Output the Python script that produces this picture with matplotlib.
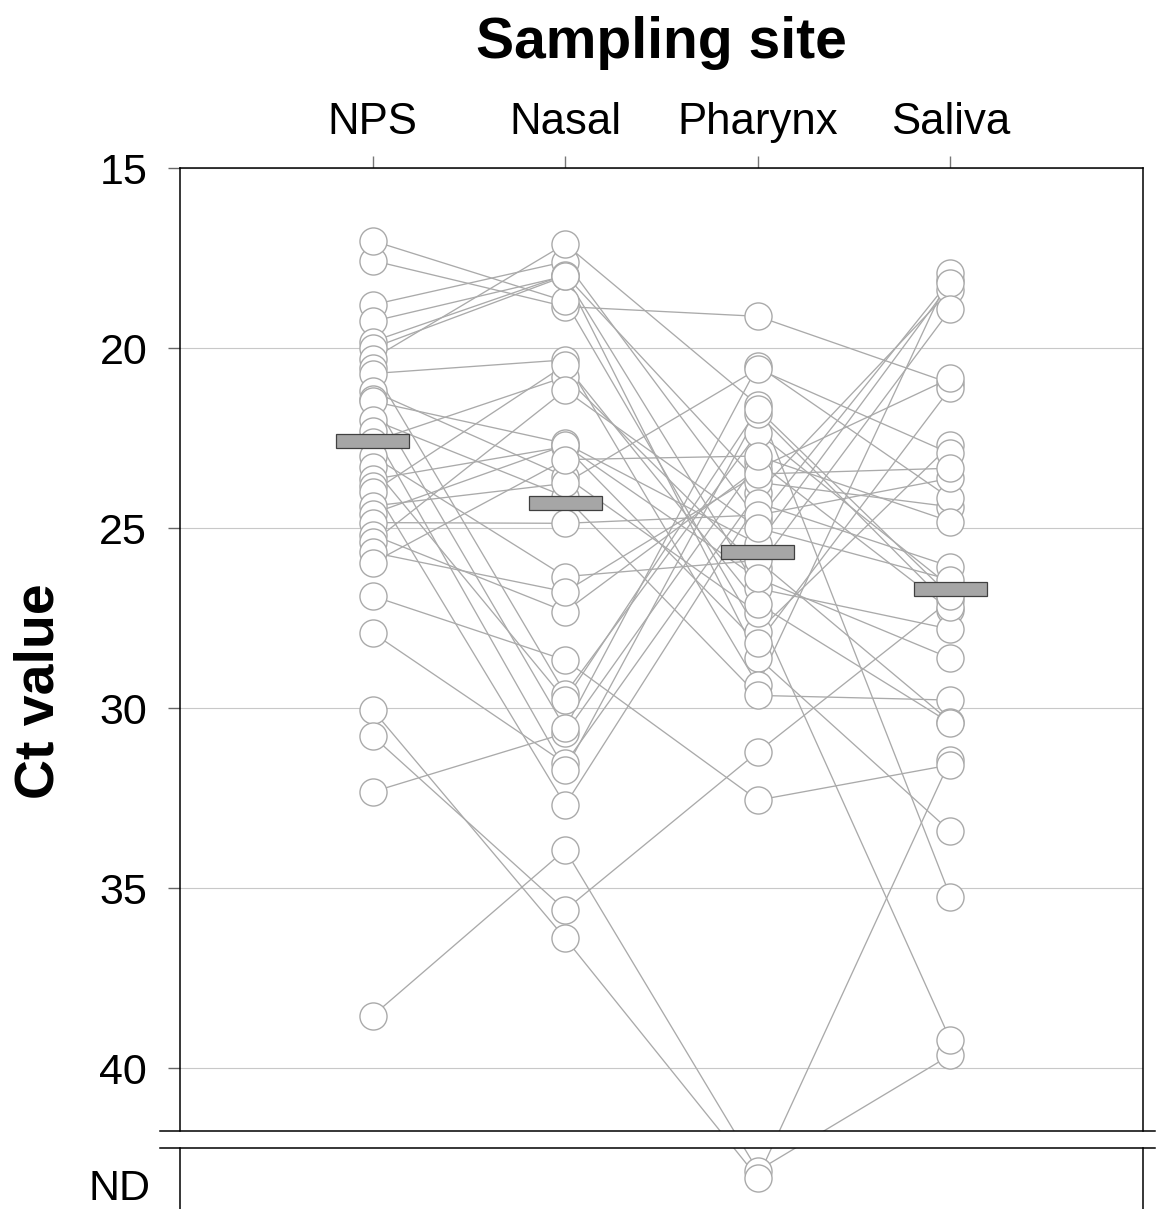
import numpy as np
import matplotlib
matplotlib.use("Agg")
import matplotlib.pyplot as plt
from matplotlib.lines import Line2D

plt.rcParams['font.family'] = ['Liberation Sans', 'DejaVu Sans']

# --- data (Ct values per subject; ND plotted below the axis break) ---
sites = ['NPS', 'Nasal', 'Pharynx', 'Saliva']
ND = 'ND'

nps = [38.55, 30.05, 30.78, 26.89, 32.33, 27.91, 17.57, 17.02,
       18.8, 19.26, 19.82, 20.0, 20.3, 20.56, 20.71, 21.2, 21.43, 21.48,
       21.99, 22.3, 22.6, 23.0, 23.3, 23.65, 23.84, 24.0, 24.39, 24.6,
       24.85, 25.19, 25.4, 25.68, 25.97]
nasal = [33.94, 36.4, 35.61, 28.67, 30.7, 31.54, 18.85, 18.7,
         17.6, 18.0, 17.97, 18.0, 17.11, 29.6, 20.33, 23.57, 30.56, 22.65,
         24.13, 31.72, 20.8, 26.35, 29.78, 22.74, 32.69, 20.47, 23.76, 22.7,
         24.87, 27.32, 21.17, 26.77, 23.1]
pharynx = [ND, ND, 31.22, 32.56, 23.16, 24.02, 19.12, 27.88,
           24.78, 26.68, 23.73, 28.6, 21.58, 22.35, 29.36, 27.35, 20.49, 25.44,
           29.65, 21.82, 26.1, 25.9, 21.7, 28.2, 24.3, 27.1, 20.58, 26.4,
           24.64, 23.35, 25.0, 23.5, 23.0]
saliva = [39.64, 31.44, 27.0, 31.58, 27.28, 18.39, 20.98, 22.69,
          18.1, 27.81, 24.41, 33.43, 35.24, 26.63, 17.93, 39.22, 24.18, 18.2,
          29.78, 27.2, 18.93, 30.38, 26.9, 21.12, 26.07, 30.42, 22.93, 28.62,
          23.62, 20.84, 26.44, 23.34, 24.82]
mean_ct = [22.58, 24.3, 25.67, 26.69]

# ND samples are drawn at these positions inside the lower panel
nd_pos = [42.85, 43.05]


def to_plot(vals):
    out, k = [], 0
    for v in vals:
        if v == ND:
            out.append(nd_pos[k % len(nd_pos)])
            k += 1
        else:
            out.append(v)
    return np.array(out, dtype=float)


cols = np.array([to_plot(nps), to_plot(nasal), to_plot(pharynx), to_plot(saliva)])
xs = np.arange(1, len(sites) + 1)

W, H = 1157, 1209
fig = plt.figure(figsize=(W / 100, H / 100), dpi=100)
ppu = 36.0  # pixels per Ct unit
ax = fig.add_axes([180 / W, 1 - 1131 / H, 963 / W, 963 / H])
axb = fig.add_axes([180 / W, 0, 963 / W, 61 / H])

line_c = '#aaaaaa'
for a in (ax, axb):
    for i in range(cols.shape[1]):
        a.plot(xs, cols[:, i], color=line_c, lw=0.95, zorder=2)
    for j in range(len(xs)):
        a.plot(np.full(cols.shape[1], xs[j]), cols[j], 'o', ms=19.5,
               mfc='white', mec=line_c, mew=1.0, zorder=3, ls='none')
    a.set_xlim(0, 5)
    for s in a.spines.values():
        s.set_linewidth(1.1)
        s.set_color('black')

# mean bars
ax.bar(xs, 0.39, bottom=np.array(mean_ct) - 0.195, width=0.38,
       color='#a6a6a6', edgecolor='#404040', linewidth=0.9, zorder=4)

ax.set_ylim(15 + 963 / ppu, 15)
axb.set_ylim(15 + 1041 / ppu, 15 + 980 / ppu)

ax.set_yticks([15, 20, 25, 30, 35, 40])
ax.grid(axis='y', color='#c8c8c8', lw=0.8, zorder=0)
ax.set_axisbelow(True)
ax.tick_params(axis='y', direction='out', length=8.6, width=1, color='#666666',
               labelsize=31, pad=15)
ax.xaxis.tick_top()
ax.set_xticks(xs)
ax.set_xticklabels(sites)
ax.tick_params(axis='x', direction='out', length=9, width=1, color='#777777',
               labelsize=31.5, pad=9)
ax.spines['bottom'].set_visible(False)

axb.set_xticks([])
axb.set_yticks([43.25])
axb.set_yticklabels(['ND'])
axb.tick_params(axis='y', length=0, labelsize=31, pad=21)
axb.spines['top'].set_visible(False)
axb.spines['bottom'].set_visible(False)

# axis break marks
for yp in (1131, 1148):
    fig.add_artist(Line2D([160 / W, 1155 / W], [1 - yp / H] * 2,
                          transform=fig.transFigure, color='black', lw=1.1))

fig.text((180 + 1143) / 2 / W, 1 - 58 / H, 'Sampling site', ha='center',
         va='baseline', fontsize=41, fontweight='bold')
fig.text(40 / W, 1 - 691 / H, 'Ct value', ha='center', va='center',
         rotation=90, fontsize=40, fontweight='bold')

fig.savefig('out.png', dpi=100)
